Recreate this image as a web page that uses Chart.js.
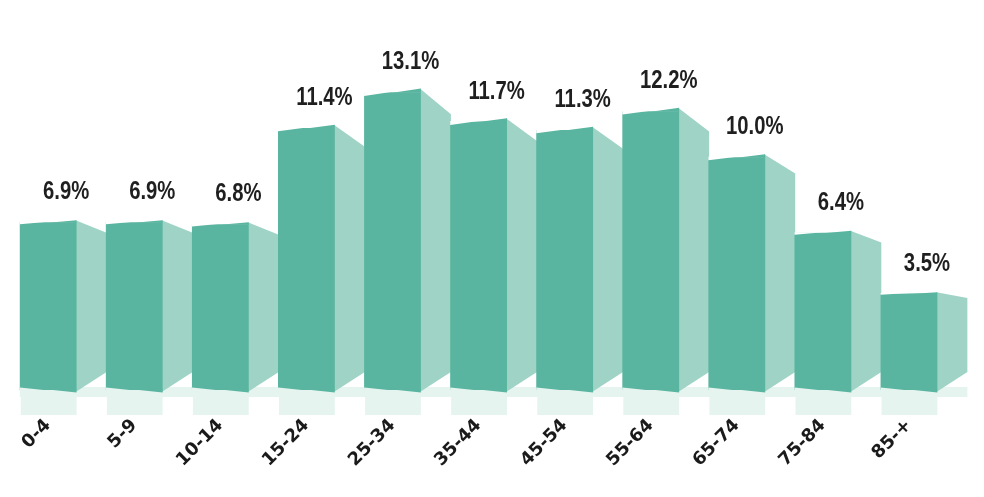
<!DOCTYPE html>
<html>
<head>
<meta charset="utf-8">
<script src="https://cdn.jsdelivr.net/npm/chart.js@4.4.1/dist/chart.umd.min.js"></script>
<style>
  html, body { margin: 0; padding: 0; background: #ffffff; }
  #wrap { width: 984px; height: 497px; }
</style>
</head>
<body>
<div id="wrap"><canvas id="c" width="984" height="497"></canvas></div>
<script>
// ---- data ----
const categories = ['0-4', '5-9', '10-14', '15-24', '25-34', '35-44', '45-54', '55-64', '65-74', '75-84', '85-+'];
const shares = [6.9, 6.9, 6.8, 11.4, 13.1, 11.7, 11.3, 12.2, 10.0, 6.4, 3.5];
const shareLabels = ['6.9%', '6.9%', '6.8%', '11.4%', '13.1%', '11.7%', '11.3%', '12.2%', '10.0%', '6.4%', '3.5%'];

// ---- styles ----
const FRONT = '#5ab5a0';
const SIDE = '#9ed3c5';
const FLOOR = '#e6f4f0';
const SIDE_W = 30;

function topSlope(el) { return Math.max(2, 0.025 * (el.base - el.y)); }

const box3d = {
  id: 'box3d',
  beforeDatasetsDraw(chart) {
    const ctx = chart.ctx;
    const els = chart.getDatasetMeta(0).data;
    if (!els.length) return;
    ctx.save();
    ctx.fillStyle = FLOOR;
    const first = els[0], last = els[els.length - 1];
    const bottom = first.base;
    const x0 = first.x - first.width / 2;
    const x1 = last.x + last.width / 2 + SIDE_W;
    ctx.fillRect(x0, bottom - 3, x1 - x0, 10);
    els.forEach(el => {
      ctx.fillRect(el.x - el.width / 2 + 1, bottom + 7, el.width - 1, 18);
    });
    // side faces
    ctx.fillStyle = SIDE;
    els.forEach(el => {
      const xr = el.x + el.width / 2;
      const s = topSlope(el) / 2;
      const top = el.y - s;
      const drop = Math.max(3, 0.1 * (349 - el.y));
      ctx.beginPath();
      ctx.moveTo(xr - 1, top);
      ctx.lineTo(xr + SIDE_W, top + drop);
      ctx.lineTo(xr + SIDE_W, el.base - 18);
      ctx.lineTo(xr - 1, el.base + 2);
      ctx.closePath();
      ctx.fill();
    });
    ctx.restore();
  },
  afterDatasetsDraw(chart) {
    const ctx = chart.ctx;
    const els = chart.getDatasetMeta(0).data;
    ctx.save();
    // slanted top and bottom edges of the front faces
    els.forEach(el => {
      const xl = el.x - el.width / 2, xr = el.x + el.width / 2;
      const s = topSlope(el) / 2;
      ctx.fillStyle = '#ffffff';
      ctx.beginPath();
      ctx.moveTo(xl, el.y - 0.5); ctx.lineTo(el.x, el.y - 0.5); ctx.lineTo(xl, el.y + s);
      ctx.closePath(); ctx.fill();
      ctx.fillStyle = FRONT;
      ctx.beginPath();
      ctx.moveTo(el.x, el.y + 0.5); ctx.lineTo(xr, el.y + 0.5); ctx.lineTo(xr, el.y - s);
      ctx.closePath(); ctx.fill();
      // bottom slant
      ctx.fillStyle = FLOOR;
      ctx.beginPath();
      ctx.moveTo(xl, el.base + 0.5); ctx.lineTo(el.x, el.base + 0.5); ctx.lineTo(xl, el.base - 2.5);
      ctx.closePath(); ctx.fill();
      ctx.fillStyle = FRONT;
      ctx.beginPath();
      ctx.moveTo(el.x, el.base - 0.5); ctx.lineTo(xr, el.base - 0.5); ctx.lineTo(xr, el.base + 2.5);
      ctx.closePath(); ctx.fill();
    });
    // value labels (condensed bold)
    ctx.fillStyle = '#1f1f1f';
    ctx.font = "bold 26px 'Liberation Sans', Arial, sans-serif";
    ctx.textAlign = 'center';
    ctx.textBaseline = 'alphabetic';
    els.forEach((el, i) => {
      ctx.save();
      ctx.translate(el.x + 18, el.y - 23);
      ctx.scale(0.78, 1);
      ctx.fillText(shareLabels[i], 0, 0);
      ctx.restore();
    });
    ctx.restore();
  }
};

new Chart(document.getElementById('c'), {
  type: 'bar',
  data: {
    labels: categories,
    datasets: [{
      data: shares,
      backgroundColor: FRONT,
      borderWidth: 0,
      barPercentage: 0.66,
      categoryPercentage: 1,
      base: -1.1
    }]
  },
  options: {
    responsive: false,
    animation: false,
    layout: { padding: { left: 4, right: 32, top: 0, bottom: 0 } },
    plugins: { legend: { display: false }, tooltip: { enabled: false } },
    scales: {
      y: { display: false, min: -1.1, max: 17.5 },
      x: {
        grid: { display: false, drawTicks: false },
        border: { display: false },
        ticks: {
          minRotation: 45,
          maxRotation: 45,
          padding: 25,
          color: '#1a1a1a',
          font: { family: "'DejaVu Sans', sans-serif", size: 18, weight: 'bold' }
        },
        afterFit(scale) { scale.height = 107; }
      }
    }
  },
  plugins: [box3d]
});
</script>
</body>
</html>
